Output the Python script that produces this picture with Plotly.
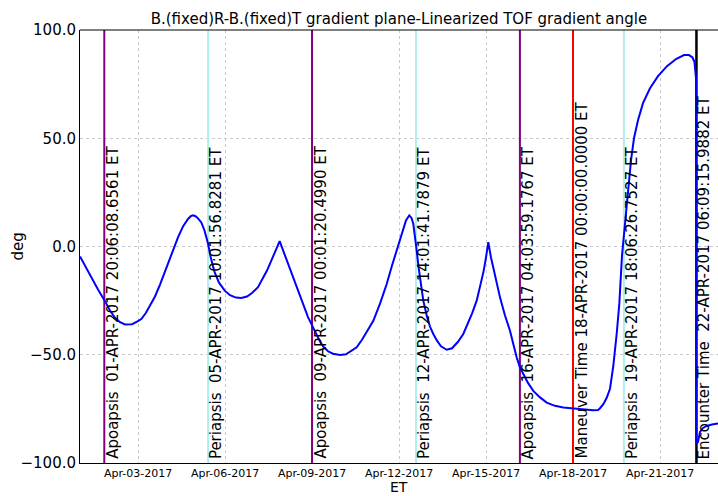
import pandas as pd
import plotly.graph_objects as go

# ---- data -------------------------------------------------------------
start_epoch = pd.Timestamp("2017-04-01 00:00:00")

# elapsed time (days after start_epoch) and gradient angle (deg)
elapsed_days = [
    0.000, 0.207, 0.414, 0.621, 0.852, 1.034, 1.207, 1.379, 1.552, 1.655,
    1.793, 1.966, 2.114, 2.276, 2.431, 2.586, 2.759, 2.897, 3.034, 3.207,
    3.379, 3.552, 3.724, 3.828, 3.897, 3.983, 4.069, 4.183, 4.293, 4.414,
    4.517, 4.645, 4.793, 4.990, 5.172, 5.379, 5.562, 5.759, 5.931, 6.138,
    6.310, 6.448, 6.597, 6.724, 6.886, 7.034, 7.172, 7.310, 7.448, 7.586,
    7.724, 7.862, 7.990, 8.138, 8.276, 8.390, 8.552, 8.724, 8.966, 9.172,
    9.345, 9.541, 9.724, 9.897, 10.114, 10.345, 10.576, 10.759, 10.897, 11.034,
    11.138, 11.241, 11.355, 11.431, 11.493, 11.552, 11.610, 11.672, 11.741, 11.838,
    11.966, 12.069, 12.183, 12.310, 12.448, 12.645, 12.828, 13.034, 13.217, 13.379,
    13.517, 13.679, 13.793, 13.914, 14.000, 14.079, 14.172, 14.310, 14.483, 14.655,
    14.828, 14.941, 15.059, 15.172, 15.286, 15.448, 15.631, 15.862, 16.093, 16.379,
    16.666, 17.010, 17.345, 17.700, 17.862, 17.931, 18.052, 18.162, 18.276, 18.390,
    18.507, 18.597, 18.690, 18.793, 18.897, 19.000, 19.103, 19.241, 19.414, 19.655,
    19.931, 20.241, 20.552, 20.828, 21.000, 21.121, 21.190, 21.224, 21.241, 21.252,
    21.310, 21.379, 21.483, 21.610, 21.793, 22.000,
]
angle_deg = [
    -4.6, -9.7, -15.0, -19.9, -25.0, -29.6, -32.9, -35.0, -36.0, -36.1,
    -35.9, -34.7, -33.5, -30.6, -27.1, -23.1, -17.6, -12.7, -7.9, -1.9,
    4.2, 9.3, 12.7, 14.1, 14.4, 14.0, 13.0, 11.1, 7.4, 1.4,
    -5.6, -12.0, -16.7, -20.4, -22.5, -23.6, -23.8, -23.1, -21.5, -18.8,
    -14.8, -11.1, -6.5, -2.3, 2.5, -2.9, -7.9, -12.9, -17.8, -22.7,
    -27.8, -32.6, -36.1, -40.3, -43.8, -46.3, -48.4, -49.5, -50.1, -49.8,
    -48.4, -46.6, -43.1, -39.1, -34.3, -26.4, -17.3, -8.8, -2.8, 2.8,
    7.9, 12.0, 14.4, 13.2, 10.5, 5.1, -1.9, -9.3, -16.7, -25.0,
    -32.4, -37.0, -40.4, -43.5, -46.1, -47.7, -47.0, -44.0, -40.4, -35.6,
    -31.0, -25.0, -19.0, -11.6, -5.1, 2.0, -5.1, -13.9, -23.5, -31.9,
    -38.9, -45.0, -51.3, -55.9, -58.9, -63.0, -66.7, -69.7, -72.1, -73.6,
    -74.4, -74.9, -75.3, -75.6, -75.5, -74.7, -72.7, -69.9, -65.7, -55.1,
    -40.3, -26.4, -4.2, 11.1, 25.9, 39.8, 50.0, 58.3, 66.2, 73.1,
    78.7, 83.3, 86.6, 88.4, 88.4, 87.3, 85.2, 81.5, 77.8, -91.2,
    -90.3, -85.6, -83.8, -82.9, -82.2, -81.8,
]

# orbital events marked with vertical lines
event_times = [
    "2017-04-01 20:06:08.6561",
    "2017-04-05 10:01:56.8281",
    "2017-04-09 00:01:20.4990",
    "2017-04-12 14:01:41.7879",
    "2017-04-16 04:03:59.1767",
    "2017-04-18 00:00:00.0000",
    "2017-04-19 18:06:26.7527",
    "2017-04-22 06:09:15.9882",
]
event_labels = [
    "Apoapsis  01-APR-2017 20:06:08.6561 ET",
    "Periapsis  05-APR-2017 10:01:56.8281 ET",
    "Apoapsis  09-APR-2017 00:01:20.4990 ET",
    "Periapsis  12-APR-2017 14:01:41.7879 ET",
    "Apoapsis  16-APR-2017 04:03:59.1767 ET",
    "Maneuver Time 18-APR-2017 00:00:00.0000 ET",
    "Periapsis  19-APR-2017 18:06:26.7527 ET",
    "Encounter Time  22-APR-2017 06:09:15.9882 ET",
]
event_kinds = ["apo", "peri", "apo", "peri", "apo", "maneuver", "peri", "encounter"]

x_ticks = ["2017-04-03", "2017-04-06", "2017-04-09", "2017-04-12",
           "2017-04-15", "2017-04-18", "2017-04-21"]
x_tick_text = ["Apr-03-2017", "Apr-06-2017", "Apr-09-2017", "Apr-12-2017",
               "Apr-15-2017", "Apr-18-2017", "Apr-21-2017"]
y_ticks = [-100, -50, 0, 50, 100]
y_min, y_max = -100, 100

x_start, x_end = "2017-04-01 00:00:00", "2017-04-23 00:00:00"

# ---- styling ----------------------------------------------------------
FONT = "DejaVu Sans"
kind_style = {
    "apo": ("#800080", 2),
    "peri": ("#AFEEEE", 2),
    "maneuver": ("#FF0000", 2),
    "encounter": ("#000000", 2.5),
}

times = [start_epoch + pd.Timedelta(days=d) for d in elapsed_days]

fig = go.Figure()

# event markers first so the curve sits on top of them
annotations = []
for t, label, kind in zip(event_times, event_labels, event_kinds):
    color, width = kind_style[kind]
    fig.add_trace(go.Scatter(
        x=[t, t], y=[y_min, y_max], mode="lines",
        line=dict(color=color, width=width),
        showlegend=False, hoverinfo="skip", cliponaxis=True,
    ))
    annotations.append(dict(
        x=t, y=0, xref="x", yref="paper", text=label, textangle=-90,
        xanchor="left", yanchor="bottom", showarrow=False,
        xshift=-2, yshift=3, borderpad=0,
        font=dict(family=FONT, size=15, color="black"),
    ))

fig.add_trace(go.Scatter(
    x=times, y=angle_deg, mode="lines",
    line=dict(color="#0000FF", width=2),
    showlegend=False, hoverinfo="skip",
))

# axis titles
annotations.append(dict(
    text="ET", x=0.5, y=0, xref="paper", yref="paper",
    xanchor="center", yanchor="bottom", yshift=-33, borderpad=0, showarrow=False,
    font=dict(family=FONT, size=14, color="black"),
))
annotations.append(dict(
    text="deg", x=0, y=0.5, xref="paper", yref="paper", textangle=-90,
    xanchor="center", yanchor="middle", xshift=-63, showarrow=False,
    font=dict(family=FONT, size=15, color="black"),
))

# top border of the axes box
shapes = [dict(type="line", xref="paper", yref="paper", x0=0, x1=1, y0=1, y1=1,
               line=dict(color="black", width=1))]

fig.update_layout(
    width=718, height=496,
    margin=dict(l=80, r=0, t=30, b=33),
    paper_bgcolor="white", plot_bgcolor="white",
    font=dict(family=FONT, color="black"),
    title=dict(
        text="B.(fixed)R-B.(fixed)T gradient plane-Linearized TOF gradient angle",
        x=0.5556, xanchor="center", y=0.962, yanchor="middle",
        font=dict(family=FONT, size=15, color="black"),
    ),
    shapes=shapes,
    annotations=annotations,
)
fig.update_xaxes(
    range=[x_start, x_end], tickvals=x_ticks, ticktext=x_tick_text,
    tickfont=dict(family=FONT, size=11, color="black"),
    showgrid=True, gridcolor="#c8c8c8", griddash="dot", gridwidth=1,
    showline=True, linecolor="black", linewidth=1,
    zeroline=False, ticks="",
)
fig.update_yaxes(
    range=[y_min, y_max], tickvals=y_ticks, tickformat=".1f",
    tickfont=dict(family=FONT, size=15, color="black"),
    showgrid=True, gridcolor="#c8c8c8", griddash="dot", gridwidth=1,
    showline=True, linecolor="black", linewidth=1,
    zeroline=False, ticks="",
)

fig.write_html("out.html")
